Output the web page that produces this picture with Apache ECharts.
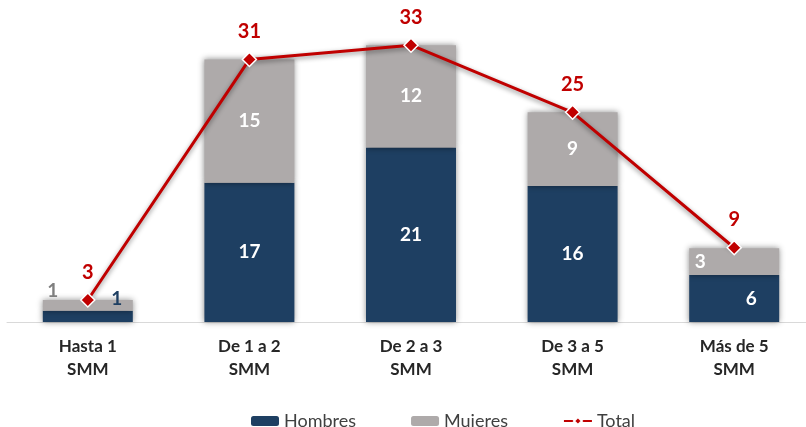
<!DOCTYPE html>
<html>
<head>
<meta charset="utf-8">
<script src="https://cdn.jsdelivr.net/npm/echarts@6/dist/echarts.min.js"></script>
<style>
  html, body { margin: 0; padding: 0; background: #fff; overflow: hidden; }
  #chart { width: 815px; height: 427px; }
</style>
</head>
<body>
<div id="chart"></div>
<script>
  // categorias y valores
  var categorias = ['Hasta 1\nSMM', 'De 1 a 2\nSMM', 'De 2 a 3\nSMM', 'De 3 a 5\nSMM', 'Más de 5\nSMM'];
  var hombres = [1.35, 16.6, 20.8, 16.2, 5.6];
  var mujeres = [1.27, 14.7, 12.2, 8.8, 3.2];
  var total = [2.62, 31.3, 33, 25, 8.85];

  var azul = '#1E3F62';
  var gris = '#AEAAAA';
  var rojo = '#C00000';
  var fuente = 'Lato, "Liberation Sans", sans-serif';

  function redondeo(p) { return Math.round(p.value); }

  var datosHombres = hombres.map(function (v, i) {
    var d = { value: v };
    if (i === 0) {
      d.label = { position: [74, -12], align: 'center', verticalAlign: 'middle', color: azul };
    } else if (i === 4) {
      d.label = { offset: [17, 0] };
    }
    return d;
  });

  var datosMujeres = mujeres.map(function (v, i) {
    var d = { value: v };
    if (i === 0) {
      d.label = { position: [10, -9], align: 'center', verticalAlign: 'middle', color: '#7F7F7F' };
    } else if (i === 4) {
      d.label = { offset: [-34, 0] };
    }
    return d;
  });

  var sombra = {
    shadowBlur: 6,
    shadowColor: 'rgba(0,0,0,0.45)',
    shadowOffsetX: 0,
    shadowOffsetY: 0
  };

  var chart = echarts.init(document.getElementById('chart'));
  chart.setOption({
    animation: false,
    textStyle: { fontFamily: fuente },
    // el grafico original queda recortado a la derecha
    grid: { left: 7, top: 20, right: 0, bottom: 105, containLabel: false },
    legend: {
      top: 407,
      left: 246,
      itemWidth: 28,
      itemHeight: 10,
      itemGap: 55,
      textStyle: { fontSize: 18, color: '#404040', fontFamily: fuente },
      data: ['Hombres', 'Mujeres', 'Total']
    },
    xAxis: {
      type: 'category',
      data: categorias,
      axisTick: { show: false },
      axisLine: { lineStyle: { color: '#D9D9D9', width: 1 } },
      axisLabel: {
        color: '#262626',
        fontWeight: 'bold',
        fontSize: 17,
        lineHeight: 23,
        margin: 13,
        interval: 0
      }
    },
    yAxis: {
      type: 'value',
      min: 0,
      max: 36,
      show: false
    },
    series: [
      {
        name: 'Hombres',
        type: 'bar',
        stack: 'smm',
        barWidth: 90,
        itemStyle: Object.assign({ color: azul }, sombra),
        label: {
          show: true,
          position: 'inside',
          color: '#fff',
          fontWeight: 'bold',
          fontSize: 19,
          formatter: redondeo
        },
        data: datosHombres
      },
      {
        name: 'Mujeres',
        type: 'bar',
        stack: 'smm',
        barWidth: 90,
        itemStyle: Object.assign({ color: gris }, sombra),
        label: {
          show: true,
          position: 'inside',
          color: '#fff',
          fontWeight: 'bold',
          fontSize: 19,
          formatter: redondeo
        },
        data: datosMujeres
      },
      {
        name: 'Total',
        type: 'line',
        symbol: 'diamond',
        symbolSize: 14,
        z: 5,
        lineStyle: {
          color: rojo,
          width: 3,
          shadowBlur: 5,
          shadowColor: 'rgba(0,0,0,0.45)',
          shadowOffsetY: 2
        },
        itemStyle: { color: rojo, borderColor: '#fff', borderWidth: 1.5 },
        label: {
          show: true,
          position: 'top',
          distance: 10,
          color: rojo,
          fontWeight: 'bold',
          fontSize: 20,
          formatter: redondeo
        },
        data: total
      }
    ]
  });
</script>
</body>
</html>
